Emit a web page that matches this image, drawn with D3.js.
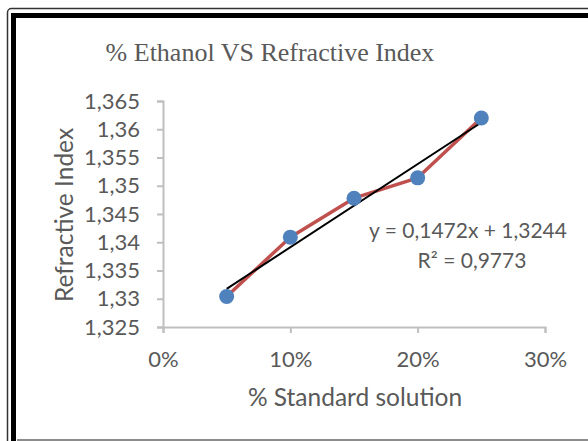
<!DOCTYPE html>
<html><head><meta charset="utf-8">
<script src="https://cdn.jsdelivr.net/npm/d3@7"></script>
<style>body{margin:0;background:#fff}svg{display:block}</style>
</head><body>
<script>
const xValues = [0.05, 0.10, 0.15, 0.20, 0.25];
const yValues = [1.3304, 1.3409, 1.3478, 1.3514, 1.3620];
const yTicks = [1.325, 1.33, 1.335, 1.34, 1.345, 1.35, 1.355, 1.36, 1.365];
const xTicks = [0, 0.1, 0.2, 0.3];
const trendSlope = 0.1472, trendIntercept = 1.3244;
const titleText = "% Ethanol VS Refractive Index";
const xTitle = "% Standard solution";
const yTitle = "Refractive Index";
const eqText = "y = 0,1472x + 1,3244";
const r2Text = "R² = 0,9773";

const W = 588, H = 441;
const svg = d3.select("body").append("svg").attr("width", W).attr("height", H);
svg.append("rect").attr("width", W).attr("height", H).attr("fill", "#fff");

// frame
svg.append("rect").attr("x", 7.5).attr("y", 8.5).attr("width", 700).attr("height", 600)
  .attr("rx", 4).attr("fill", "none").attr("stroke", "#333").attr("stroke-width", 1.5);
svg.append("rect").attr("x", 13.5).attr("y", 15.5).attr("width", 700).attr("height", 600)
  .attr("fill", "none").attr("stroke", "#000").attr("stroke-width", 5);
svg.append("line").attr("x1", 17).attr("x2", W).attr("y1", 440).attr("y2", 440)
  .attr("stroke", "#666").attr("stroke-width", 1.5);

const x = d3.scaleLinear().domain([0, 0.3]).range([163, 545]);
const y = d3.scaleLinear().domain([1.325, 1.365]).range([327, 101]);
const grey = "#595959";
const sans = "Lato, 'Open Sans', sans-serif";

// title
svg.append("text").attr("x", 270).attr("y", 61).attr("text-anchor", "middle")
  .attr("font-family", "'Liberation Serif', 'Times New Roman', serif").attr("font-size", 26)
  .attr("fill", grey).text(titleText);

// axes
const yAxis = d3.axisLeft(y).tickValues(yTicks).tickSize(6).tickPadding(17)
  .tickFormat(d => d3.format(".3~f")(d).replace(".", ","));
const gy = svg.append("g").attr("transform", "translate(163,0)").call(yAxis);
const xAxis = d3.axisBottom(x).tickValues(xTicks).tickSize(6).tickPadding(18)
  .tickFormat(d => Math.round(d * 100) + "%");
const gx = svg.append("g").attr("transform", "translate(0,327)").call(xAxis);
[gx, gy].forEach(g => {
  g.select(".domain").attr("stroke", "#bfbfbf").attr("stroke-width", 2);
  g.selectAll(".tick line").attr("stroke", "#bfbfbf").attr("stroke-width", 2);
  g.selectAll(".tick text").attr("fill", grey).attr("font-family", sans).attr("font-size", 22);
});

svg.append("text").attr("x", 355).attr("y", 406).attr("text-anchor", "middle")
  .attr("font-family", sans).attr("font-size", 24.5).attr("fill", grey).text(xTitle);
svg.append("text").attr("transform", "translate(73,215) rotate(-90)").attr("text-anchor", "middle")
  .attr("font-family", sans).attr("font-size", 24.5).attr("fill", grey).text(yTitle);

// series line
const pts = xValues.map((v, i) => [v, yValues[i]]);
svg.append("path").datum(pts)
  .attr("d", d3.line().x(d => x(d[0])).y(d => y(d[1])))
  .attr("fill", "none").attr("stroke", "#C0504D").attr("stroke-width", 3.5)
  .attr("stroke-linejoin", "round");

// trendline
const tx = [xValues[0], xValues[xValues.length - 1]];
svg.append("line")
  .attr("x1", x(tx[0])).attr("y1", y(trendSlope * tx[0] + trendIntercept))
  .attr("x2", x(tx[1])).attr("y2", y(trendSlope * tx[1] + trendIntercept))
  .attr("stroke", "#000").attr("stroke-width", 2);

// markers
svg.selectAll("circle.pt").data(pts).enter().append("circle")
  .attr("cx", d => x(d[0])).attr("cy", d => y(d[1])).attr("r", 7.5)
  .attr("fill", "#4F81BD");

// equation
svg.append("text").attr("x", 468).attr("y", 238).attr("text-anchor", "middle")
  .attr("font-family", sans).attr("font-size", 21).attr("fill", grey).text(eqText);
svg.append("text").attr("x", 472).attr("y", 268).attr("text-anchor", "middle")
  .attr("font-family", sans).attr("font-size", 21).attr("fill", grey).text(r2Text);
</script>
</body></html>
